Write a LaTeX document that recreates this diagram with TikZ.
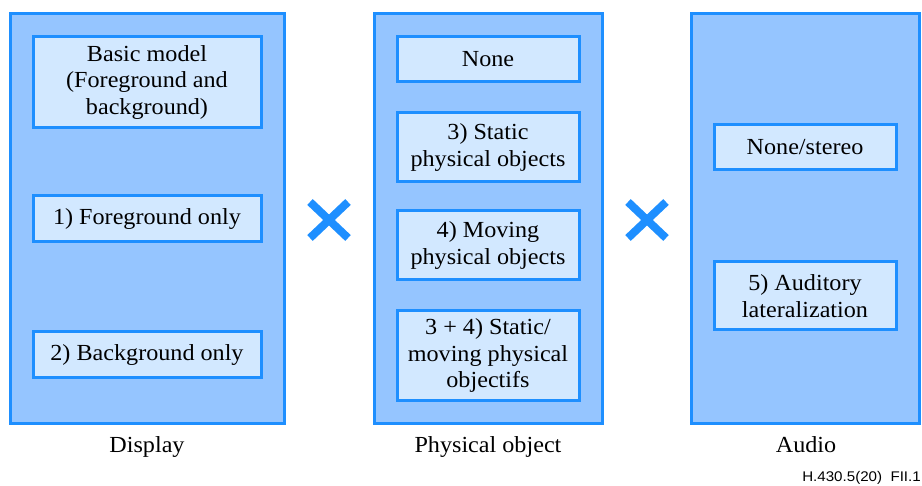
\documentclass[tikz,border=0pt]{standalone}
\usepackage{fontspec}
\setmainfont{Liberation Serif}
\newfontfamily\figserif[FakeStretch=1.05]{Liberation Serif}
\newfontfamily\figsans[FakeStretch=1.08]{Liberation Sans}
\definecolor{edgeblue}{HTML}{1E8FFF}
\definecolor{panelfill}{HTML}{95C5FF}
\definecolor{boxfill}{HTML}{D2E8FF}
\begin{document}
\begin{tikzpicture}[x=1pt,y=-1pt,
  panel/.style={draw=edgeblue,fill=panelfill,line width=3pt,inner sep=0pt},
  optbox/.style={draw=edgeblue,fill=boxfill,line width=3pt,align=center,inner sep=0pt,
    font=\figserif\fontsize{23}{26.5}\selectfont},
  caption/.style={font=\figserif\fontsize{23}{26}\selectfont,anchor=base},
  crossline/.style={draw=edgeblue,line width=8pt,line cap=butt}]
\useasboundingbox (0,0) rectangle (922,486);
% three columns
\node[panel,minimum width=274pt,minimum height=410pt] (display) at (147,219) {};
\node[panel,minimum width=228pt,minimum height=410pt] (phys) at (488,219) {};
\node[panel,minimum width=228pt,minimum height=410pt] (audio) at (805,219) {};
% display options
\node[optbox,minimum width=228pt,minimum height=91pt] (basic) at (147,82.5)
  {Basic model\\(Foreground and\\background)};
\node[optbox,minimum width=228pt,minimum height=46pt] (fg) at (147,219) {1) Foreground only};
\node[optbox,minimum width=228pt,minimum height=46pt] (bg) at (147,355) {2) Background only};
% physical object options
\node[optbox,minimum width=182pt,minimum height=45pt] (pnone) at (488,59.5) {None};
\node[optbox,minimum width=182pt,minimum height=69pt] (pstatic) at (488,147.5)
  {3) Static\\physical objects};
\node[optbox,minimum width=182pt,minimum height=69pt] (pmoving) at (488,245.5)
  {4) Moving\\physical objects};
\node[optbox,minimum width=182pt,minimum height=90pt] (pboth) at (488,355.5)
  {3 + 4) Static/\\moving physical\\objectifs};
% audio options
\node[optbox,minimum width=182pt,minimum height=45pt] (anone) at (805,147.5) {None/stereo};
\node[optbox,minimum width=182pt,minimum height=68pt] (alat) at (805,296)
  {5) Auditory\\lateralization};
% multiplication signs
\coordinate (c1) at (329,220);
\coordinate (c2) at (647,220);
\foreach \c in {c1,c2}{
  \draw[crossline] ([shift={(-19,-18)}]\c) -- ([shift={(19,18)}]\c);
  \draw[crossline] ([shift={(-19,18)}]\c) -- ([shift={(19,-18)}]\c);
}
% column captions
\node[caption] (tdisp) at (147,453) {Display};
\node[caption] (tphys) at (488,453) {Physical object};
\node[caption] (taud) at (806,453) {Audio};
\node[font=\figsans\fontsize{14}{16}\selectfont,anchor=base east,inner sep=0pt] (ref) at (921,482) {H.430.5(20)\ \ FII.1};
\end{tikzpicture}
\end{document}
